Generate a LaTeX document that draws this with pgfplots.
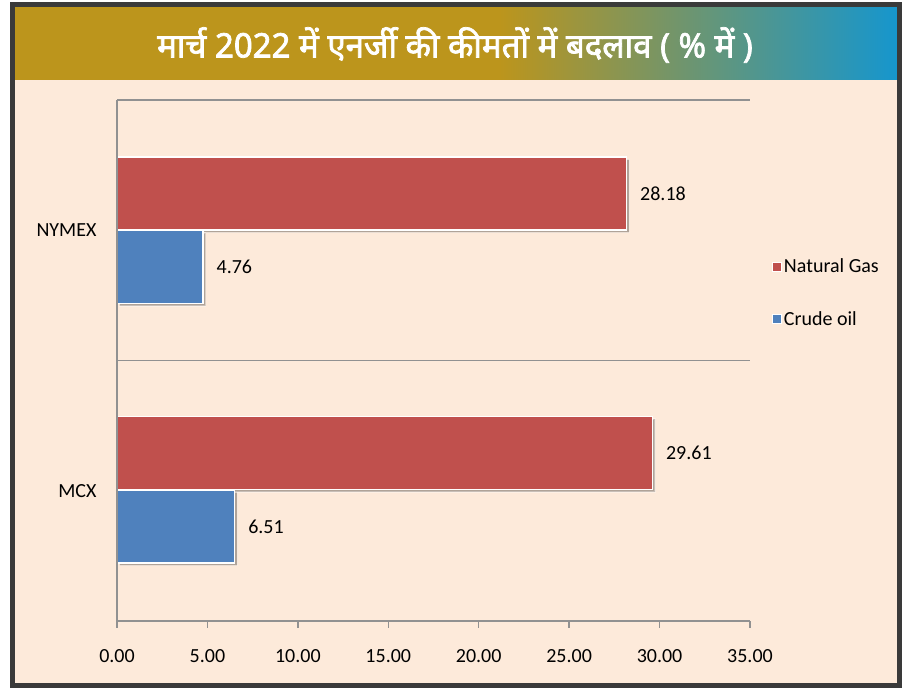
\documentclass[border=0pt]{standalone}
\usepackage{pgfplots}
\pgfplotsset{compat=1.18}
\usepackage{fontspec}
\setmainfont{Carlito}
\newfontfamily\hindi[Script=Devanagari, FakeBold=2.2]{Noto Sans}
\usetikzlibrary{shadows}
\definecolor{gasred}{RGB}{192,80,77}
\definecolor{oilblue}{RGB}{79,129,189}
\definecolor{bgpeach}{RGB}{253,234,218}
\definecolor{gold}{RGB}{188,149,28}
\definecolor{tealblue}{RGB}{22,150,205}
\definecolor{gridgray}{RGB}{145,145,145}
\definecolor{framegray}{RGB}{58,58,58}
\newcommand{\lbl}{\fontsize{20}{22}\selectfont}
\begin{document}
\begin{tikzpicture}[x=1pt,y=1pt]
\path (0,0) rectangle (905,688);
\fill[bgpeach] (15,1) rectangle (897,681);
\fill[gold] (15,608) rectangle (500,681);
\shade[left color=gold, right color=tealblue] (499.5,608) rectangle (897,681);
\draw[framegray, line width=5pt] (12.5,2.5) rectangle (899.5,683.5);
\node[white, inner sep=0pt] at (455,643) {\scalebox{1.0}[1.02]{\hindi\fontsize{33}{36}\selectfont मार्च 2022 में एनर्जी की कीमतों में बदलाव ( \% में )}};
\begin{axis}[
  at={(117pt,67pt)}, anchor=south west,
  width=633pt, height=521pt, scale only axis,
  xmin=0, xmax=35, ymin=0, ymax=2,
  axis on top,
  axis lines=left, axis line style={-, gridgray, line width=1.5pt},
  xtick={0,5,...,35},
  xticklabels={0.00,5.00,10.00,15.00,20.00,25.00,30.00,35.00},
  ytick={0.5,1.5}, yticklabels={MCX,NYMEX},
  minor ytick={0,1,2},
  yminorgrids, minor grid style={gridgray, line width=1.5pt},
  tick align=outside,
  major tick length=7pt, minor tick length=7pt,
  tick style={gridgray, line width=1.5pt},
  ytick style={draw=none},
  minor tick style={gridgray, line width=1.5pt},
  xticklabel style={font=\lbl, yshift=-18pt},
  yticklabel style={font=\lbl, xshift=-10pt},
  clip=false,
  legend style={draw=none, fill=none, at={(1.03,0.703)}, anchor=north west,
    font=\lbl, row sep=33pt},
  legend cell align=left,
]
\addplot[xbar, bar width=0.28, fill=gasred, draw=white, line width=1.2pt,
  drop shadow={shadow xshift=2.5pt, shadow yshift=-2.5pt, opacity=0.3, fill=black},
  forget plot] coordinates {(29.61,0.645) (28.18,1.641)};
\addplot[xbar, bar width=0.28, fill=oilblue, draw=white, line width=1.2pt,
  drop shadow={shadow xshift=2.5pt, shadow yshift=-2.5pt, opacity=0.3, fill=black},
  forget plot] coordinates {(6.51,0.363) (4.76,1.359)};
\addplot[only marks, mark=none, draw=none, forget plot,
  nodes near coords={\pgfmathprintnumber[fixed,fixed zerofill,precision=2,assume math mode=true]{\pgfplotspointmeta}},
  point meta=explicit,
  every node near coord/.style={anchor=west, black, font=\lbl, xshift=10pt}]
  coordinates {(29.61,0.645) [29.61] (28.18,1.641) [28.18] (6.51,0.363) [6.51] (4.76,1.359) [4.76]};
\addlegendimage{legend image code/.code={\fill[gasred, draw=white, line width=0.8pt] (0pt,-4.5pt) rectangle (9pt,4.5pt);}}
\addlegendentry{Natural Gas}
\addlegendimage{legend image code/.code={\fill[oilblue, draw=white, line width=0.8pt] (0pt,-4.5pt) rectangle (9pt,4.5pt);}}
\addlegendentry{Crude oil}
\end{axis}
\end{tikzpicture}
\end{document}
